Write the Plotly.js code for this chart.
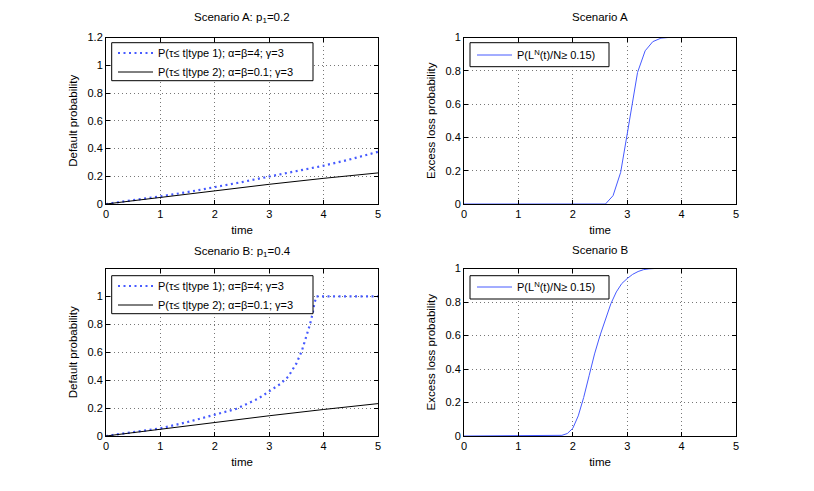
<!DOCTYPE html>
<html>
<head>
<meta charset="utf-8">
<script src="https://cdn.plot.ly/plotly-3.0.1.min.js"></script>
<style>html,body{margin:0;padding:0;background:#fff;}#chart{width:814px;height:491px;}</style>
</head>
<body>
<div id="chart"></div>
<script>
// Scenario A: default probabilities
const tA1 = [0, 0.5, 1, 1.5, 2, 2.5, 3, 3.5, 4, 4.5, 5];
const pA_type1 = [0, 0.025, 0.055, 0.086, 0.121, 0.158, 0.198, 0.236, 0.276, 0.323, 0.376];
const tA2 = [0, 1, 2, 3, 4, 5];
const pA_type2 = [0, 0.049, 0.097, 0.142, 0.185, 0.224];

// Scenario A: excess loss probability
const tAL = [0, 2.6, 2.74, 2.88, 3.0, 3.1, 3.19, 3.33, 3.47, 3.62, 3.75, 5];
const pAL = [0, 0, 0.05, 0.19, 0.42, 0.62, 0.79, 0.92, 0.975, 0.996, 1, 1];

// Scenario B: default probabilities
const tB1 = [0, 0.5, 1, 1.5, 2, 2.4, 2.8, 3.0, 3.2, 3.35, 3.5, 3.6, 3.7, 3.75, 3.8, 3.83, 3.87, 4, 4.5, 5];
const pB_type1 = [0, 0.025, 0.055, 0.1, 0.152, 0.195, 0.268, 0.318, 0.372, 0.425, 0.52, 0.61, 0.73, 0.8, 0.88, 0.95, 1.0, 1.0, 1.0, 1.0];
const tB2 = [0, 1, 2, 3, 4, 5];
const pB_type2 = [0, 0.05, 0.098, 0.145, 0.19, 0.232];

// Scenario B: excess loss probability
const tBL = [0, 1.7, 1.8, 1.9, 2.0, 2.1, 2.2, 2.3, 2.4, 2.5, 2.6, 2.7, 2.8, 2.9, 3.0, 3.1, 3.2, 3.3, 3.4, 3.5, 5];
const pBL = [0, 0, 0.004, 0.015, 0.046, 0.12, 0.23, 0.36, 0.49, 0.6, 0.7, 0.79, 0.86, 0.91, 0.94, 0.965, 0.982, 0.993, 0.998, 1, 1];

const xTicks = [0, 1, 2, 3, 4, 5];
const yTicksA = [0, 0.2, 0.4, 0.6, 0.8, 1, 1.2];
const yTicksB = [0, 0.2, 0.4, 0.6, 0.8, 1];
const yTicksL = [0, 0.2, 0.4, 0.6, 0.8, 1];

const name1 = 'P(τ≤ t|type 1); α=β=4; γ=3';
const name2 = 'P(τ≤ t|type 2); α=β=0.1; γ=3';
const nameL = 'P(L<sup>N</sup>(t)/N≥ 0.15)';

const BLUE = 'rgb(70,90,255)';
const FONT = 'Liberation Sans, Arial, Helvetica, sans-serif';

const traces = [
  {x: tA1, y: pA_type1, xaxis: 'x', yaxis: 'y', name: name1, mode: 'lines', line: {color: BLUE, width: 2.2, dash: '2px,3.5px'}, legend: 'legend'},
  {x: tA2, y: pA_type2, xaxis: 'x', yaxis: 'y', name: name2, mode: 'lines', line: {color: '#000', width: 1}, legend: 'legend'},
  {x: tAL, y: pAL, xaxis: 'x2', yaxis: 'y2', name: nameL, mode: 'lines', line: {color: BLUE, width: 1}, legend: 'legend2'},
  {x: tB1, y: pB_type1, xaxis: 'x3', yaxis: 'y3', name: name1, mode: 'lines', line: {color: BLUE, width: 2.2, dash: '2px,3.5px'}, legend: 'legend3'},
  {x: tB2, y: pB_type2, xaxis: 'x3', yaxis: 'y3', name: name2, mode: 'lines', line: {color: '#000', width: 1}, legend: 'legend3'},
  {x: tBL, y: pBL, xaxis: 'x4', yaxis: 'y4', name: nameL, mode: 'lines', line: {color: BLUE, width: 1}, legend: 'legend4'}
];

function xax(domain, anchor) {
  return {
    domain: domain, anchor: anchor, range: [0, 5], tickvals: xTicks,
    ticks: 'inside', ticklen: 4, tickcolor: '#000', mirror: 'ticks',
    showline: true, linecolor: '#000', linewidth: 1,
    showgrid: true, gridcolor: '#777', griddash: '1px,3px', gridwidth: 1,
    zeroline: false, automargin: false, fixedrange: true,
    tickfont: {family: FONT, size: 11, color: '#000'},
    title: {text: 'time', standoff: 6, font: {family: FONT, size: 11.5, color: '#000'}}
  };
}
function yax(domain, anchor, range, ticks, title) {
  return {
    domain: domain, anchor: anchor, range: range, tickvals: ticks,
    ticks: 'inside', ticklen: 4, tickcolor: '#000', mirror: 'ticks',
    showline: true, linecolor: '#000', linewidth: 1,
    showgrid: true, gridcolor: '#777', griddash: '1px,3px', gridwidth: 1,
    zeroline: false, automargin: false, fixedrange: true,
    tickfont: {family: FONT, size: 11, color: '#000'},
    title: {text: title, standoff: 7, font: {family: FONT, size: 11.5, color: '#000'}}
  };
}
function leg(x, y) {
  return {
    x: x, y: y, xref: 'paper', yref: 'paper', xanchor: 'left', yanchor: 'top',
    bgcolor: 'rgba(0,0,0,0)', borderwidth: 0,
    font: {family: FONT, size: 11, color: '#000'}, itemwidth: 35,
    tracegroupgap: 0
  };
}

const W = 814, H = 491;
const dxL = [106 / W, 378 / W], dxR = [464 / W, 736 / W];
const dyT = [1 - 204 / H, 1 - 37.5 / H], dyB = [1 - 436 / H, 1 - 268.5 / H];

function box(x0, y0, x1, y1) {
  return {type: 'rect', xref: 'paper', yref: 'paper', layer: 'above',
    x0: x0 / W, x1: x1 / W, y0: 1 - y1 / H, y1: 1 - y0 / H,
    fillcolor: '#fff', line: {color: '#000', width: 1}};
}

function ttl(text, xd, ypx) {
  return {text: text, x: (xd[0] + xd[1]) / 2, y: 1 - ypx / H, xref: 'paper', yref: 'paper',
    xanchor: 'center', yanchor: 'middle', showarrow: false,
    font: {family: FONT, size: 11.5, color: '#000'}};
}

const layout = {
  width: W, height: H,
  margin: {l: 0, r: 0, t: 0, b: 0},
  paper_bgcolor: '#fff', plot_bgcolor: '#fff',
  font: {family: FONT, size: 11, color: '#000'},
  xaxis: xax(dxL, 'y'),
  yaxis: yax(dyT, 'x', [0, 1.2], yTicksA, 'Default probability'),
  xaxis2: xax(dxR, 'y2'),
  yaxis2: yax(dyT, 'x2', [0, 1], yTicksL, 'Excess loss probability'),
  xaxis3: xax(dxL, 'y3'),
  yaxis3: yax(dyB, 'x3', [0, 1.2], yTicksB, 'Default probability'),
  xaxis4: xax(dxR, 'y4'),
  yaxis4: yax(dyB, 'x4', [0, 1], yTicksL, 'Excess loss probability'),
  legend: leg(113 / W, 1 - 38.5 / H),
  legend2: leg(472 / W, 1 - 40.5 / H),
  legend3: leg(113 / W, 1 - 271.5 / H),
  legend4: leg(472 / W, 1 - 272.5 / H),
  shapes: [
    box(111.7, 42.7, 313, 80.7),
    box(470, 42.7, 609, 66.7),
    box(111.7, 275.7, 313, 313.7),
    box(470, 275.7, 609, 299)
  ],
  annotations: [
    ttl('Scenario A: p<sub>1</sub>=0.2', dxL, 18.5),
    ttl('Scenario A', dxR, 17),
    ttl('Scenario B: p<sub>1</sub>=0.4', dxL, 251.5),
    ttl('Scenario B', dxR, 250)
  ],
  showlegend: true
};

Plotly.newPlot('chart', traces, layout, {displayModeBar: false, staticPlot: true});
</script>
</body>
</html>
